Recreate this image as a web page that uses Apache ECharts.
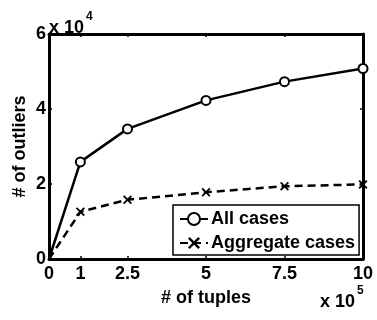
<!DOCTYPE html>
<html>
<head>
<meta charset="utf-8">
<script src="https://cdn.jsdelivr.net/npm/echarts@6/dist/echarts.min.js"></script>
<style>
  html, body { margin: 0; padding: 0; background: #fff; }
  #chart { width: 377px; height: 320px; }
</style>
</head>
<body>
<div id="chart"></div>
<script>
// Number of tuples (x 10^5)
const tuples = [0, 1, 2.5, 5, 7.5, 10];
// Number of outliers (x 10^4)
const allCases = [0, 2.59, 3.47, 4.23, 4.73, 5.08];
const aggregateCases = [0, 1.26, 1.58, 1.78, 1.94, 1.99];
// Tick labels
const xTicks = [0, 1, 2.5, 5, 7.5, 10];
const yTicks = [0, 2, 4, 6];

const FONT = '"Liberation Sans", Arial, sans-serif';
const crossPath = 'path://M0,1.4L1.4,0L5,3.6L8.6,0L10,1.4L6.4,5L10,8.6L8.6,10L5,6.4L1.4,10L0,8.6L3.6,5Z';

const chart = echarts.init(document.getElementById('chart'), null, { renderer: 'canvas' });

const tickLabel = { color: '#000', fontFamily: FONT, fontWeight: 'bold', fontSize: 18 };

const xBase = {
  type: 'value', min: 0, max: 10,
  axisLine: { show: true, onZero: false, lineStyle: { color: '#000', width: 3 } },
  splitLine: { show: false },
  axisTick: { show: true, inside: true, length: 3, customValues: xTicks, lineStyle: { color: '#000', width: 1.5 } },
};
const yBase = {
  type: 'value', min: 0, max: 6, interval: 2,
  axisLine: { show: true, onZero: false, lineStyle: { color: '#000', width: 3 } },
  splitLine: { show: false },
  axisTick: { show: true, inside: true, length: 3, lineStyle: { color: '#000', width: 1.5 } },
};

// No marker is drawn on the origin point of either series
function points(values) {
  return tuples.map((x, i) => i === 0 ? { value: [x, values[i]], symbol: 'none' } : [x, values[i]]);
}

// Axis multiplier label: "x 10" with a raised exponent
function multiplier(left, top, exp) {
  const base = { fontFamily: FONT, fontWeight: 'bold', fill: '#000' };
  return [
    { type: 'text', left: left, top: top, style: Object.assign({ text: 'x 10', fontSize: 18 }, base) },
    { type: 'text', left: left + 37, top: top - 8, style: Object.assign({ text: exp, fontSize: 12 }, base) }
  ];
}

chart.setOption({
  animation: false,
  backgroundColor: '#fff',
  grid: { left: 49, right: 14, top: 34, bottom: 61, containLabel: false },
  xAxis: [
    Object.assign({}, xBase, {
      position: 'bottom',
      axisLabel: Object.assign({ show: true, margin: 6, customValues: xTicks,
        formatter: v => String(v) }, tickLabel),
      name: '# of tuples', nameLocation: 'middle', nameGap: 30, nameMoveOverlap: false,
      nameTextStyle: { color: '#000', fontFamily: FONT, fontWeight: 'bold', fontSize: 18 }
    }),
    Object.assign({}, xBase, { position: 'top', axisLabel: { show: false } })
  ],
  yAxis: [
    Object.assign({}, yBase, {
      position: 'left',
      axisLabel: Object.assign({ show: true, margin: 3 }, tickLabel),
      name: '# of outliers', nameLocation: 'middle', nameGap: 20, nameMoveOverlap: false,
      nameTextStyle: { color: '#000', fontFamily: FONT, fontWeight: 'bold', fontSize: 18 }
    }),
    Object.assign({}, yBase, { position: 'right', axisLabel: { show: false } })
  ],
  legend: {
    orient: 'vertical',
    left: 173, top: 205,
    padding: [5, 4, 3, 6],
    itemGap: 6,
    itemWidth: 28, itemHeight: 15,
    backgroundColor: '#fff',
    borderColor: '#000', borderWidth: 1.5, borderRadius: 0,
    textStyle: { color: '#000', fontFamily: FONT, fontWeight: 'bold', fontSize: 18, lineHeight: 18, padding: [0, 0, 0, -2] },
    data: ['All cases', 'Aggregate cases']
  },
  graphic: multiplier(49, 19, '4').concat(multiplier(320, 293, '5')),
  series: [
    {
      name: 'All cases', type: 'line',
      data: points(allCases),
      symbol: 'emptyCircle', symbolSize: 9,
      lineStyle: { color: '#000', width: 2.5, type: 'solid' },
      itemStyle: { color: '#000', borderColor: '#000', borderWidth: 2.5 },
      z: 3
    },
    {
      name: 'Aggregate cases', type: 'line',
      data: points(aggregateCases),
      symbol: crossPath, symbolSize: 9,
      lineStyle: { color: '#000', width: 2.5, type: [8, 5] },
      itemStyle: { color: '#000', borderColor: '#000', borderWidth: 0 },
      z: 3
    }
  ]
});
</script>
</body>
</html>
